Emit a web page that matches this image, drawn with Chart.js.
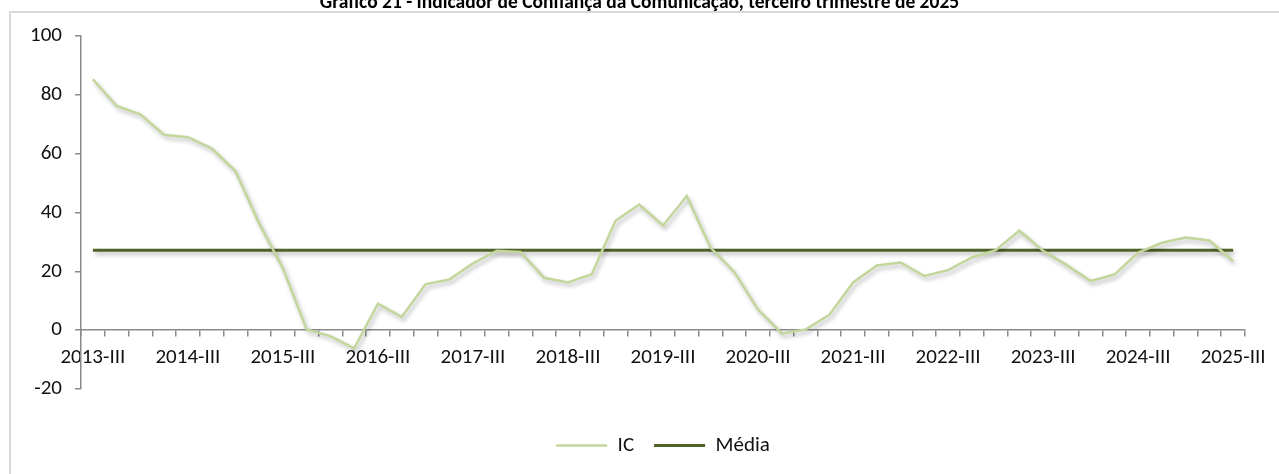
<!DOCTYPE html>
<html>
<head>
<meta charset="utf-8">
<script src="https://cdn.jsdelivr.net/npm/chart.js@4.4.1/dist/chart.umd.min.js"></script>
<style>
  html, body { margin: 0; padding: 0; background: #fff; overflow: hidden; }
  #wrap { position: relative; width: 1279px; height: 474px; }
  #frame { position: absolute; left: 9px; top: 11px; width: 1400px; height: 600px; border: 2px solid #d9d9d9; box-sizing: border-box; }
  #title { position: absolute; left: 0; top: -9px; width: 1279px; text-align: center; font: bold 19.5px Carlito, Lato, sans-serif; line-height: 20px; color: #000; white-space: nowrap; }
  canvas { position: absolute; left: 0; top: 0; }
</style>
</head>
<body>
<div id="wrap">
  <div id="frame"></div>
  <canvas id="c" width="1279" height="474"></canvas>
  <div id="title">Gráfico 21 - Indicador de Confiança da Comunicação, terceiro trimestre de 2025</div>
</div>
<script>
const categories = [
  "2013-III","2013-IV",
  "2014-I","2014-II","2014-III","2014-IV",
  "2015-I","2015-II","2015-III","2015-IV",
  "2016-I","2016-II","2016-III","2016-IV",
  "2017-I","2017-II","2017-III","2017-IV",
  "2018-I","2018-II","2018-III","2018-IV",
  "2019-I","2019-II","2019-III","2019-IV",
  "2020-I","2020-II","2020-III","2020-IV",
  "2021-I","2021-II","2021-III","2021-IV",
  "2022-I","2022-II","2022-III","2022-IV",
  "2023-I","2023-II","2023-III","2023-IV",
  "2024-I","2024-II","2024-III","2024-IV",
  "2025-I","2025-II","2025-III"
];
const icValues = [
  85.3, 76.2,
  73.4, 66.4, 65.6, 61.8,
  54.1, 36.3, 21.0, 0.2,
  -2.0, -6.2, 9.0, 4.5,
  15.6, 17.2, 22.7, 27.0,
  26.6, 17.8, 16.2, 19.0,
  37.2, 42.7, 35.6, 45.6,
  28.1, 19.8, 7.0, -1.1,
  0.2, 5.2, 16.2, 22.0,
  23.0, 18.4, 20.4, 24.7,
  27.2, 33.8, 27.0, 22.1,
  16.7, 18.9, 26.4, 29.7,
  31.5, 30.5, 23.5
];
const mediaValues = [
  27.2, 27.2,
  27.2, 27.2, 27.2, 27.2,
  27.2, 27.2, 27.2, 27.2,
  27.2, 27.2, 27.2, 27.2,
  27.2, 27.2, 27.2, 27.2,
  27.2, 27.2, 27.2, 27.2,
  27.2, 27.2, 27.2, 27.2,
  27.2, 27.2, 27.2, 27.2,
  27.2, 27.2, 27.2, 27.2,
  27.2, 27.2, 27.2, 27.2,
  27.2, 27.2, 27.2, 27.2,
  27.2, 27.2, 27.2, 27.2,
  27.2, 27.2, 27.2
];
const yTicks = { min: -20, max: 100, step: 20 };
const labelEvery = 4;

const FONT = "Carlito, Lato, sans-serif";
const AXIS_COLOR = "#8a8a8a";

const shadowPlugin = {
  id: 'lineShadow',
  beforeDatasetDraw(chart) {
    const ctx = chart.ctx;
    ctx.save();
    ctx.shadowColor = 'rgba(0,0,0,0.28)';
    ctx.shadowBlur = 4;
    ctx.shadowOffsetX = 2;
    ctx.shadowOffsetY = 3;
  },
  afterDatasetDraw(chart) {
    chart.ctx.restore();
  }
};

new Chart(document.getElementById('c'), {
  type: 'line',
  data: {
    labels: categories,
    datasets: [
      { label: 'IC', data: icValues, borderColor: '#c3d69b', backgroundColor: '#c3d69b', borderWidth: 2.5, pointRadius: 0, tension: 0, fill: false },
      { label: 'Média', data: mediaValues, borderColor: '#4f6228', backgroundColor: '#4f6228', borderWidth: 3, pointRadius: 0, tension: 0, fill: false }
    ]
  },
  options: {
    responsive: false,
    animation: false,
    events: [],
    layout: { padding: { left: 0, right: 34, top: 36, bottom: 8 } },
    scales: {
      x: {
        position: { y: 0 },
        offset: true,
        grid: { offset: true, drawOnChartArea: false, drawTicks: true, tickLength: 6, color: AXIS_COLOR, lineWidth: 1.5 },
        border: { display: true, color: AXIS_COLOR, width: 1.5 },
        ticks: {
          autoSkip: false, maxRotation: 0, minRotation: 0, padding: 9,
          color: '#111', font: { family: FONT, size: 21 },
          callback: function(v, i) { return i % labelEvery === 0 ? categories[i] : ''; }
        }
      },
      y: {
        min: yTicks.min, max: yTicks.max,
        grid: { drawOnChartArea: false, drawTicks: true, tickLength: 6, color: AXIS_COLOR, lineWidth: 1.5 },
        border: { display: true, color: AXIS_COLOR, width: 1.5 },
        ticks: { stepSize: yTicks.step, padding: 13, color: '#111', font: { family: FONT, size: 21 } },
        afterFit(scale) { scale.width = 81; }
      }
    },
    plugins: {
      legend: {
        position: 'bottom',
        fullSize: false,
        title: { display: true, text: '', padding: { top: 14, bottom: 0 }, font: { size: 10 } },
        labels: {
          usePointStyle: true, pointStyle: 'line', pointStyleWidth: 51,
          padding: 20, color: '#111', font: { family: FONT, size: 21 }
        }
      },
      tooltip: { enabled: false }
    }
  },
  plugins: [shadowPlugin]
});
</script>
</body>
</html>
